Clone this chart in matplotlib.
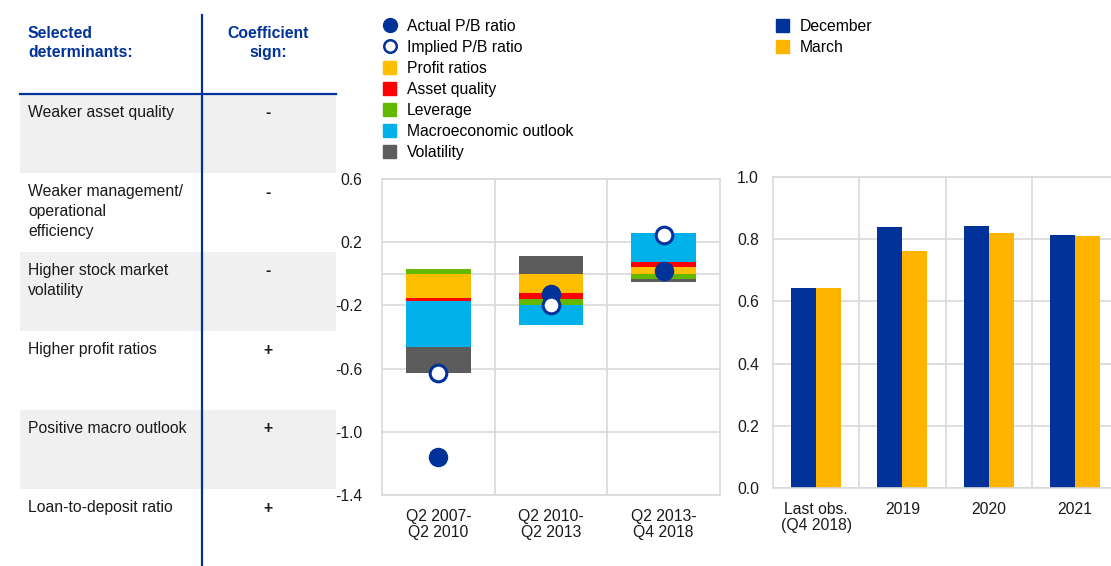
import numpy as np
import matplotlib
matplotlib.use("Agg")
import matplotlib.pyplot as plt
from matplotlib.patches import Rectangle
from matplotlib.lines import Line2D
from matplotlib.patches import Patch

plt.rcParams['font.family'] = ['Liberation Sans', 'DejaVu Sans']
plt.rcParams['font.size'] = 11.3

# ------------------ Data ------------------

determinants = ["Weaker asset quality", "Weaker management/\noperational\nefficiency",
                "Higher stock market\nvolatility", "Higher profit ratios",
                "Positive macro outlook", "Loan-to-deposit ratio"]
signs = ["-", "-", "-", "+", "+", "+"]

periods = ["Q2 2007-\nQ2 2010", "Q2 2010-\nQ2 2013", "Q2 2013-\nQ4 2018"]
profit = [-0.15, -0.12, 0.04]
asset = [-0.025, -0.04, 0.035]
leverage = [0.03, -0.035, -0.03]
macro = [-0.29, -0.13, 0.185]
volatility = [-0.16, 0.115, -0.02]
actual_pb = [-1.16, -0.13, 0.015]
implied_pb = [-0.63, -0.2, 0.245]

horizons = ["Last obs.\n(Q4 2018)", "2019", "2020", "2021"]
december = [0.644, 0.84, 0.841, 0.814]
march = [0.644, 0.763, 0.819, 0.81]

# ------------------ Styling ------------------

BLUE = "#003299"
YELLOW = "#ffb400"
GRID = "#d9d9d9"
comp_colors = ["#ffbf00", "#ff0000", "#65b800", "#00b1ea", "#5c5c5c"]
comp_names = ["Profit ratios", "Asset quality", "Leverage", "Macroeconomic outlook", "Volatility"]

W, H = 1111, 566
fig = plt.figure(figsize=(W / 100, H / 100), dpi=100)

# ------------------ Left table (pixel coordinates) ------------------

tab = fig.add_axes([0, 0, 1, 1])
tab.set_xlim(0, W)
tab.set_ylim(H, 0)
tab.axis("off")

row_top = 94
row_h = 79
for i, (name, sign) in enumerate(zip(determinants, signs)):
    y0 = row_top + i * row_h
    if i % 2 == 0:
        tab.add_patch(Rectangle((20, y0), 316, row_h, color="#f0f0f0", lw=0))
    tab.text(28, y0 + 11, name, ha="left", va="top", color="#1a1a1a", linespacing=1.42)
    tab.text(268, y0 + 19, sign, ha="center", va="center", fontweight="bold", color="#1a1a1a")

tab.text(28, 26, "Selected\ndeterminants:", ha="left", va="top", color=BLUE,
         fontweight="bold", linespacing=1.32)
tab.text(268, 26, "Coefficient\nsign:", ha="center", va="top", color=BLUE,
         fontweight="bold", linespacing=1.32)
tab.plot([20, 336], [94, 94], color=BLUE, lw=1.6)
tab.plot([202, 202], [15, H], color=BLUE, lw=1.6)


def style_axes(ax):
    for s in ax.spines.values():
        s.set_color(GRID)
        s.set_linewidth(1.2)
    ax.tick_params(length=0, pad=10, labelcolor="#1a1a1a")
    ax.grid(axis="y", color=GRID, lw=1.2)
    ax.set_axisbelow(True)


# ------------------ Middle chart: decomposition ------------------

ax = fig.add_axes([382 / W, 1 - 495 / H, 338 / W, 316 / H])
style_axes(ax)
x = np.arange(len(periods))
pos_base = np.zeros(len(periods))
neg_base = np.zeros(len(periods))
for vals, col in zip([profit, asset, leverage, macro, volatility], comp_colors):
    vals = np.array(vals)
    bottom = np.where(vals >= 0, pos_base, neg_base)
    ax.bar(x, vals, 0.575, bottom=bottom, color=col, lw=0, zorder=2)
    pos_base += np.clip(vals, 0, None)
    neg_base += np.clip(vals, None, 0)

ax.plot(x, actual_pb, "o", color=BLUE, ms=13, zorder=3)
ax.plot(x, implied_pb, "o", mfc="white", mec=BLUE, mew=2.2, ms=12, zorder=4)
ax.axhline(0, color=GRID, lw=1.2, zorder=1)
for b in [0.5, 1.5]:
    ax.axvline(b, color=GRID, lw=1.2, zorder=1)
ax.set_xlim(-0.5, 2.5)
ax.set_ylim(-1.4, 0.6)
ax.set_yticks([-1.4, -1.0, -0.6, -0.2, 0.2, 0.6])
ax.set_yticklabels(["-1.4", "-1.0", "-0.6", "-0.2", "0.2", "0.6"])
ax.set_xticks(x)
ax.set_xticklabels(periods, linespacing=1.1)
ax.tick_params(axis="y", pad=14)

# ------------------ Right chart: forecasts ------------------

ax2 = fig.add_axes([773 / W, 1 - 488 / H, 345 / W, 311 / H])
style_axes(ax2)
x2 = np.arange(len(horizons))
bw = 0.29
ax2.bar(x2 - bw / 2, december, bw, color=BLUE, lw=0, zorder=2)
ax2.bar(x2 + bw / 2, march, bw, color=YELLOW, lw=0, zorder=2)
for b in [0.5, 1.5, 2.5]:
    ax2.axvline(b, color=GRID, lw=1.2, zorder=1)
ax2.set_xlim(-0.5, 3.5)
ax2.set_ylim(0, 1.0)
ax2.set_yticks(np.arange(0, 1.01, 0.2))
ax2.set_yticklabels([f"{v:.1f}" for v in np.arange(0, 1.01, 0.2)])
ax2.set_xticks(x2)
ax2.set_xticklabels(horizons, linespacing=1.1)
ax2.tick_params(axis="y", pad=10)

# ------------------ Legends ------------------

h1 = [Line2D([], [], ls="", marker="o", color=BLUE, ms=10),
      Line2D([], [], ls="", marker="o", mfc="white", mec=BLUE, mew=1.8, ms=9)]
h1 += [Patch(color=c) for c in comp_colors]
fig.legend(h1, ["Actual P/B ratio", "Implied P/B ratio"] + comp_names,
           loc="upper left", bbox_to_anchor=(383 / W, 1 - 19 / H), frameon=False,
           handlelength=0.85, handleheight=0.85, handletextpad=0.65, labelspacing=0.38,
           borderaxespad=0, borderpad=0)

h2 = [Patch(color=BLUE), Patch(color=YELLOW)]
fig.legend(h2, ["December", "March"], loc="upper left", bbox_to_anchor=(776 / W, 1 - 19 / H),
           frameon=False, handlelength=0.85, handleheight=0.85, handletextpad=0.65,
           labelspacing=0.38, borderaxespad=0, borderpad=0)

fig.savefig("out.png", dpi=100)
